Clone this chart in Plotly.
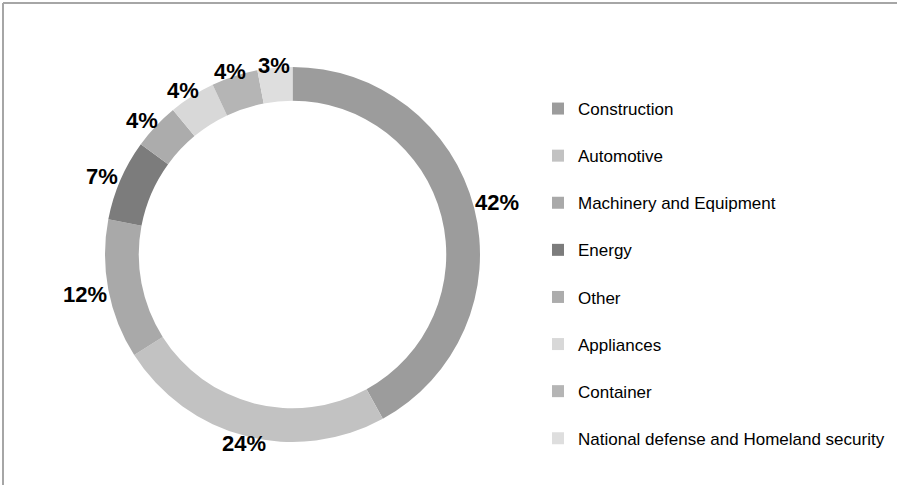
import math
import plotly.graph_objects as go

sectors = ['Construction', 'Automotive', 'Machinery and Equipment', 'Energy',
           'Other', 'Appliances', 'Container', 'National defense and Homeland security']
shares = [42, 24, 12, 7, 4, 4, 4, 3]
colors = ['#9c9c9c', '#c2c2c2', '#a9a9a9', '#7c7c7c',
          '#acacac', '#d8d8d8', '#b5b5b5', '#dedede']

W, H = 897, 485
CX, CY, R = 292.5, 254.5, 187.5   # ring centre / outer radius in pixels
LABEL_SIZE = 22


def px_x(p):
    return p / W


def px_y(p):
    return 1 - p / H


def text_width(s, size):
    w = 0
    for ch in s:
        w += 0.889 if ch == '%' else 0.556
    return w * size


fig = go.Figure()

fig.add_trace(go.Pie(
    labels=sectors,
    values=shares,
    hole=0.82,
    sort=False,
    direction='clockwise',
    rotation=0,
    marker=dict(colors=colors, line=dict(width=0)),
    textinfo='none',
    domain=dict(x=[px_x(CX - R), px_x(CX + R)], y=[px_y(CY + R), px_y(CY - R)]),
    showlegend=False,
    hoverinfo='label+percent'
))

# percentage labels just outside the ring, like the original (no leader lines)
total = sum(shares)
cum = 0
for v in shares:
    theta = 2 * math.pi * (cum + v / 2) / total
    cum += v
    dx, dy = math.sin(theta), -math.cos(theta)
    txt = f"{round(100 * v / total)}%"
    d = R + abs(dx) * text_width(txt, LABEL_SIZE) / 2 + 2
    # the original sits the upper-left labels a little lower
    shift = 8 * max(0.0, -dx) * max(0.0, -dy)
    fig.add_annotation(
        x=px_x(CX + dx * d - shift), y=px_y(CY + dy * d + shift),
        xref='paper', yref='paper',
        text=txt, showarrow=False,
        xanchor='center', yanchor='middle',
        font=dict(family='Liberation Sans, Arial', size=LABEL_SIZE,
                  color='#000000', weight='bold')
    )

# legend entries, one group each so they can be spaced apart
for name, col in zip(sectors, colors):
    fig.add_trace(go.Scatter(
        x=[None], y=[None],
        mode='markers',
        name=name,
        legendgroup=name,
        marker=dict(symbol='square', size=12, color=col),
        showlegend=True
    ))

fig.update_layout(
    width=W,
    height=H,
    paper_bgcolor='white',
    plot_bgcolor='white',
    margin=dict(l=0, r=0, t=0, b=0),
    xaxis=dict(visible=False),
    yaxis=dict(visible=False),
    legend=dict(
        x=px_x(538),
        y=px_y(91),
        xanchor='left',
        yanchor='top',
        tracegroupgap=22,
        font=dict(family='Liberation Sans, Arial', size=17, color='#000000'),
        bgcolor='rgba(0,0,0,0)'
    ),
    shapes=[
        dict(type='line', xref='paper', yref='paper',
             x0=px_x(3), x1=px_x(897), y0=px_y(3), y1=px_y(3),
             line=dict(color='#a6a6a6', width=2)),
        dict(type='line', xref='paper', yref='paper',
             x0=px_x(3), x1=px_x(3), y0=px_y(3), y1=px_y(485),
             line=dict(color='#a6a6a6', width=2)),
    ]
)

fig.write_html("out.html", config={'displayModeBar': False},
               post_script="document.body.style.margin='0';")
